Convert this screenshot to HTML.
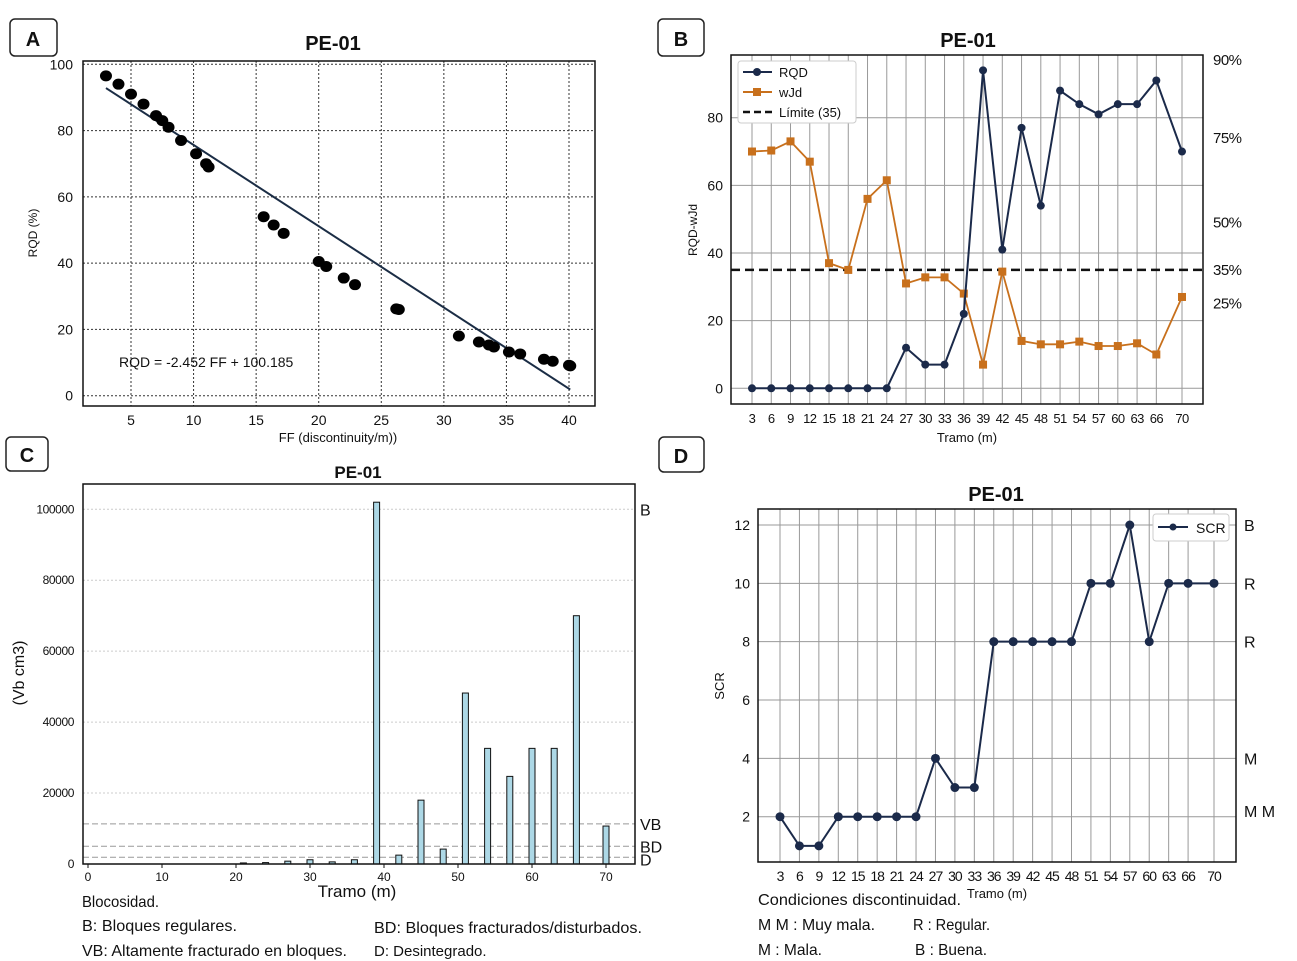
<!DOCTYPE html>
<html><head><meta charset="utf-8">
<style>
html,body{margin:0;padding:0;background:#fff;}
svg{display:block;font-family:"Liberation Sans",sans-serif;}
.t{font-size:13px;fill:#111;}
.ti{font-size:20px;font-weight:bold;fill:#111;}
.lab{font-size:20px;font-weight:bold;fill:#111;}
.nt{font-family:"Liberation Sans",sans-serif;font-size:16px;fill:#111;}
.ct{font-size:13px;letter-spacing:-0.6px;fill:#111;}
</style></head>
<body>
<svg id="fig" width="1297" height="961" viewBox="0 0 1297 961" xmlns="http://www.w3.org/2000/svg">
<g><rect x="10" y="19" width="47" height="37" rx="5" fill="#fff" stroke="#222" stroke-width="1.5"/><text x="33" y="46" text-anchor="middle" class="lab">A</text></g>
<g><rect x="658" y="19" width="46" height="37" rx="5" fill="#fff" stroke="#222" stroke-width="1.5"/><text x="681" y="46" text-anchor="middle" class="lab">B</text></g>
<g><rect x="6" y="437" width="42" height="34" rx="5" fill="#fff" stroke="#222" stroke-width="1.5"/><text x="27" y="462" text-anchor="middle" class="lab">C</text></g>
<g><rect x="659" y="437" width="45" height="35" rx="5" fill="#fff" stroke="#222" stroke-width="1.5"/><text x="681" y="463" text-anchor="middle" class="lab">D</text></g>

<g id="pA"></g>
<g id="pB"></g>
<g id="pC"></g>
<g id="pD"></g>

<text x="82" y="907" class="nt" textLength="77" lengthAdjust="spacingAndGlyphs">Blocosidad.</text>
<text x="82" y="931" class="nt" textLength="155" lengthAdjust="spacingAndGlyphs">B: Bloques regulares.</text>
<text x="82" y="956" class="nt" textLength="265" lengthAdjust="spacingAndGlyphs">VB: Altamente fracturado en bloques.</text>
<text x="374" y="933" class="nt" textLength="268" lengthAdjust="spacingAndGlyphs">BD: Bloques fracturados/disturbados.</text>
<text x="374" y="956" class="nt" style="font-size:15px">D: Desintegrado.</text>
<text x="758" y="905" class="nt" textLength="203" lengthAdjust="spacingAndGlyphs">Condiciones discontinuidad.</text>
<text x="758" y="930" class="nt" textLength="117" lengthAdjust="spacingAndGlyphs">M M : Muy mala.</text>
<text x="758" y="955" class="nt" textLength="64" lengthAdjust="spacingAndGlyphs">M : Mala.</text>
<text x="913" y="930" class="nt" textLength="77" lengthAdjust="spacingAndGlyphs">R : Regular.</text>
<text x="915" y="955" class="nt" textLength="72" lengthAdjust="spacingAndGlyphs">B : Buena.</text>
</svg>
<script>
// ---- Panel A data ----
const ffValues = [3,4,5,6,7,7.5,8,9,10.2,11,11.2,15.6,16.4,17.2,20,20.6,22,22.9,26.2,26.4,31.2,32.8,33.6,34,35.2,36.1,38,38.7,40,40.1];
const rqdValues = [96.5,94,91,88,84.5,83,81,77,73,70,69,54,51.5,49,40.5,39,35.5,33.5,26.2,26,18,16.2,15.3,14.7,13.2,12.6,11,10.4,9.2,9.0];
const fitSlope = -2.452;
const fitIntercept = 100.185;
const aXTicks = [5,10,15,20,25,30,35,40];
const aYTicks = [0,20,40,60,80,100];
// ---- Panel B data ----
const tramoB = [3,6,9,12,15,18,21,24,27,30,33,36,39,42,45,48,51,54,57,60,63,66,70];
const rqdB = [0,0,0,0,0,0,0,0,12,7,7,22,94,41,77,54,88,84,81,84,84,91,70];
const wjdB = [70,70.3,73,67,37,35,56,61.5,31,32.8,32.8,28,7,34.5,14,13,13,13.8,12.5,12.5,13.3,10,27];
const limitB = 35;
const bYTicks = [0,20,40,60,80];
const bRightLabels = ["90%","75%","50%","35%","25%"];
const bRightValues = [97,74,49,35,25];
// ---- Panel C data ----
const tramoC = [21,24,27,30,33,36,39,42,45,48,51,54,57,60,63,66,70];
const vbC = [300,400,800,1200,600,1200,102000,2500,18000,4200,48200,32600,24700,32600,32600,70000,10700];
const cXTicks = [0,10,20,30,40,50,60,70];
const cYTicks = [0,20000,40000,60000,80000,100000];
const cClassLabels = ["B","VB","BD","D"];
const cClassValues = [100000,11300,5000,1900];
// ---- Panel D data ----
const tramoD = [3,6,9,12,15,18,21,24,27,30,33,36,39,42,45,48,51,54,57,60,63,66,70];
const scrD = [2,1,1,2,2,2,2,2,4,3,3,8,8,8,8,8,10,10,12,8,10,10,10];
const dYTicks = [2,4,6,8,10,12];
const dRightLabels = ["B","R","R","M","M M"];
const dRightValues = [12,10,8,4,2.2];

const NS="http://www.w3.org/2000/svg";
function mk(parent,tag,attrs,text){const e=document.createElementNS(NS,tag);for(const k in attrs)e.setAttribute(k,attrs[k]);if(text!==undefined)e.textContent=text;parent.appendChild(e);return e;}
function lin(d0,d1,r0,r1){return v=>r0+(v-d0)*(r1-r0)/(d1-d0);}

// ===== Panel A =====
(function(){
const g=document.getElementById('pA');
const L=83,R=595,T=61,B=406;
const x=lin(5,40,131,569), y=lin(0,100,395.7,64.3);
aXTicks.forEach(v=>{const l=mk(g,'line',{x1:x(v),x2:x(v),y1:T,y2:B,stroke:'#333','stroke-dasharray':'2,2','stroke-width':1});

const t=mk(g,'text',{x:x(v),y:B+19,'text-anchor':'middle',class:'t',style:'font-size:14px'},v);
});
aYTicks.forEach(v=>{const l=mk(g,'line',{x1:L,x2:R,y1:y(v),y2:y(v),stroke:'#333','stroke-dasharray':'2,2','stroke-width':1});

const t=mk(g,'text',{x:L-10,y:y(v)+5,'text-anchor':'end',class:'t',style:'font-size:14px'},v);
});
const fx0=ffValues[0], fx1=ffValues[ffValues.length-1];
const fl=mk(g,'line',{x1:x(fx0),y1:y(fitSlope*fx0+fitIntercept),x2:x(fx1),y2:y(fitSlope*fx1+fitIntercept),stroke:'#1b2d45','stroke-width':2});

ffValues.forEach((v,i)=>{const c=mk(g,'ellipse',{cx:x(v),cy:y(rqdValues[i]),rx:6,ry:5.5,fill:'#000'});
});
const fr=mk(g,'rect',{x:L,y:T,width:R-L,height:B-T,fill:'none',stroke:'#111','stroke-width':1.5});

const eq=mk(g,'text',{x:119,y:367,class:'t',style:'font-size:14px'},'RQD = -2.452 FF + 100.185');

const ti=mk(g,'text',{x:333,y:50,'text-anchor':'middle',class:'ti'},'PE-01');

const xl=mk(g,'text',{x:338,y:442,'text-anchor':'middle',class:'t'},'FF (discontinuity/m))');

const yl=mk(g,'text',{x:0,y:0,'text-anchor':'middle',class:'t',transform:'translate(37,233) rotate(-90)',style:'font-size:12px'},'RQD (%)');

})();

// ===== Panel B =====
(function(){
const g=document.getElementById('pB');
const L=731,R=1203,T=55,B=404;
const x=lin(3,70,752,1182), y=lin(0,80,388.3,117.7);
tramoB.forEach(v=>{const l=mk(g,'line',{x1:x(v),x2:x(v),y1:T,y2:B,stroke:'#999','stroke-width':1});

const t=mk(g,'text',{x:x(v),y:B+19,'text-anchor':'middle',class:'ct'},v);
});
bYTicks.forEach(v=>{const l=mk(g,'line',{x1:L,x2:R,y1:y(v),y2:y(v),stroke:'#999','stroke-width':1});

const t=mk(g,'text',{x:L-8,y:y(v)+5,'text-anchor':'end',class:'t',style:'font-size:14px'},v);
});
const lim=mk(g,'line',{x1:L,x2:R,y1:y(limitB),y2:y(limitB),stroke:'#111','stroke-width':2.5,'stroke-dasharray':'9,5'});

const pw=mk(g,'polyline',{points:tramoB.map((v,i)=>x(v)+','+y(wjdB[i])).join(' '),fill:'none',stroke:'#c8701c','stroke-width':1.8});

tramoB.forEach((v,i)=>{const r=mk(g,'rect',{x:x(v)-4,y:y(wjdB[i])-4,width:8,height:8,fill:'#c8701c'});
});
const pr=mk(g,'polyline',{points:tramoB.map((v,i)=>x(v)+','+y(rqdB[i])).join(' '),fill:'none',stroke:'#1b2a4a','stroke-width':2});

tramoB.forEach((v,i)=>{const c=mk(g,'circle',{cx:x(v),cy:y(rqdB[i]),r:4,fill:'#1b2a4a'});
});
const fr=mk(g,'rect',{x:L,y:T,width:R-L,height:B-T,fill:'none',stroke:'#111','stroke-width':1.5});

bRightLabels.forEach((s,i)=>{const t=mk(g,'text',{x:1213,y:y(bRightValues[i])+5,class:'t',style:'font-size:15px;letter-spacing:-0.5px'},s);
});
const lg=mk(g,'g',{});

mk(lg,'rect',{x:738,y:61,width:118,height:62,rx:3,fill:'#fff',stroke:'#ccc'});
mk(lg,'line',{x1:743,x2:772,y1:72,y2:72,stroke:'#1b2a4a','stroke-width':2});mk(lg,'circle',{cx:757,cy:72,r:4,fill:'#1b2a4a'});
mk(lg,'text',{x:779,y:77,class:'t'},'RQD');
mk(lg,'line',{x1:743,x2:772,y1:92,y2:92,stroke:'#c8701c','stroke-width':2});mk(lg,'rect',{x:753,y:88,width:8,height:8,fill:'#c8701c'});
mk(lg,'text',{x:779,y:97,class:'t'},'wJd');
mk(lg,'line',{x1:743,x2:772,y1:112,y2:112,stroke:'#111','stroke-width':2.5,'stroke-dasharray':'7,4'});
mk(lg,'text',{x:779,y:117,class:'t'},'Límite (35)');
const ti=mk(g,'text',{x:968,y:47,'text-anchor':'middle',class:'ti'},'PE-01');

const xl=mk(g,'text',{x:967,y:442,'text-anchor':'middle',class:'t'},'Tramo (m)');

const yl=mk(g,'text',{x:0,y:0,'text-anchor':'middle',class:'t',transform:'translate(697,230) rotate(-90)',style:'font-size:12px'},'RQD-wJd');

})();

// ===== Panel C =====
(function(){
const g=document.getElementById('pC');
const L=83,R=635,T=484,B=864;
const x=lin(0,70,88,606), y=lin(0,100000,864,509.3);
cYTicks.forEach(v=>{if(v>0){const l=mk(g,'line',{x1:L,x2:R,y1:y(v),y2:y(v),stroke:'#ccc','stroke-dasharray':'2,2','stroke-width':1});
}
const t=mk(g,'text',{x:L-9,y:y(v)+4,'text-anchor':'end',class:'t',style:'font-size:12px;letter-spacing:-0.4px'},v);
});
cClassValues.forEach((v,i)=>{if(i>0){const l=mk(g,'line',{x1:L,x2:R,y1:y(v),y2:y(v),stroke:'#999','stroke-dasharray':'6,3','stroke-width':1});
}
const t=mk(g,'text',{x:640,y:y(v)+6+(i==3?2:0),class:'nt'},cClassLabels[i]);
});
cXTicks.forEach(v=>{const t=mk(g,'text',{x:x(v),y:B+17,'text-anchor':'middle',class:'t',style:'font-size:12px'},v);

mk(g,'line',{x1:x(v),x2:x(v),y1:B,y2:B+4,stroke:'#111'});});
tramoC.forEach((v,i)=>{const h=B-y(vbC[i]);const r=mk(g,'rect',{x:x(v)-3,y:y(vbC[i]),width:6,height:Math.max(h,1),fill:'#add8e6',stroke:'#111','stroke-width':1});
});
const fr=mk(g,'rect',{x:L,y:T,width:R-L,height:B-T,fill:'none',stroke:'#111','stroke-width':1.5});

const ti=mk(g,'text',{x:358,y:478,'text-anchor':'middle',class:'ti',style:'font-size:17px'},'PE-01');

const xl=mk(g,'text',{x:357,y:897,'text-anchor':'middle',class:'nt',style:'font-size:17px'},'Tramo (m)');

const yl=mk(g,'text',{x:0,y:0,'text-anchor':'middle',class:'nt',transform:'translate(24,673) rotate(-90)'},'(Vb cm3)');

})();

// ===== Panel D =====
(function(){
const g=document.getElementById('pD');
const L=758,R=1236,T=509,B=862;
const x=lin(3,70,780,1214), y=lin(2,12,816.7,525);
tramoD.forEach(v=>{const l=mk(g,'line',{x1:x(v),x2:x(v),y1:T,y2:B,stroke:'#999','stroke-width':1});

const t=mk(g,'text',{x:x(v),y:B+19,'text-anchor':'middle',class:'ct',style:'font-size:14px;letter-spacing:-1px'},v);
});
dYTicks.forEach(v=>{const l=mk(g,'line',{x1:L,x2:R,y1:y(v),y2:y(v),stroke:'#999','stroke-width':1});

const t=mk(g,'text',{x:L-8,y:y(v)+5,'text-anchor':'end',class:'nt',style:'font-size:14px'},v);
});
const p=mk(g,'polyline',{points:tramoD.map((v,i)=>x(v)+','+y(scrD[i])).join(' '),fill:'none',stroke:'#1b2a4a','stroke-width':2});

tramoD.forEach((v,i)=>{const c=mk(g,'circle',{cx:x(v),cy:y(scrD[i]),r:4.5,fill:'#1b2a4a'});
});
const fr=mk(g,'rect',{x:L,y:T,width:R-L,height:B-T,fill:'none',stroke:'#111','stroke-width':1.5});

dRightLabels.forEach((s,i)=>{const t=mk(g,'text',{x:1244,y:y(dRightValues[i])+6,class:'nt'},s);
});
const lg=mk(g,'g',{});

mk(lg,'rect',{x:1153,y:514,width:76,height:27,rx:3,fill:'#fff',stroke:'#ccc'});
mk(lg,'line',{x1:1158,x2:1188,y1:527,y2:527,stroke:'#1b2a4a','stroke-width':2});mk(lg,'circle',{cx:1173,cy:527,r:3.5,fill:'#1b2a4a'});
mk(lg,'text',{x:1196,y:533,class:'nt',style:'font-size:14px'},'SCR');
const ti=mk(g,'text',{x:996,y:501,'text-anchor':'middle',class:'ti'},'PE-01');

const xl=mk(g,'text',{x:997,y:898,'text-anchor':'middle',class:'nt',style:'font-size:13px'},'Tramo (m)');

const yl=mk(g,'text',{x:0,y:0,'text-anchor':'middle',class:'nt',transform:'translate(724,686) rotate(-90)',style:'font-size:13px'},'SCR');

})();
</script>
</body></html>
